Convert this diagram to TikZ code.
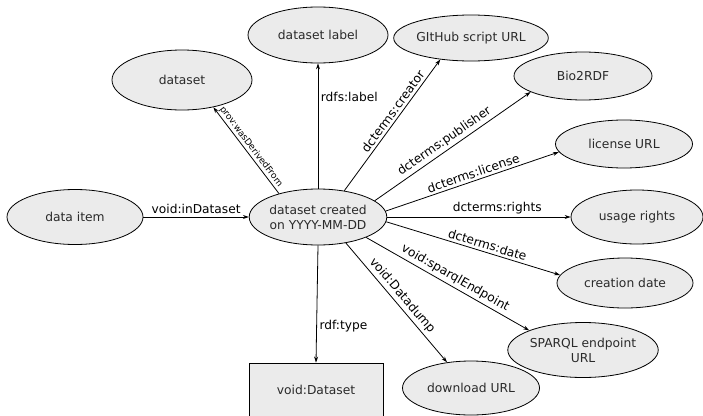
\documentclass[tikz,border=0pt]{standalone}
\usepackage{fontspec}
\setmainfont{DejaVu Sans}
\usetikzlibrary{shapes.geometric,arrows.meta}
\definecolor{nodefill}{HTML}{EBEBEB}
\definecolor{nodetext}{HTML}{2A2A2A}
\begin{document}
\begin{tikzpicture}[x=1pt,y=-1pt,
  ell/.style={ellipse,draw=black,line width=0.8pt,fill=nodefill,inner sep=0pt,
    text=nodetext,font=\fontsize{12.3}{15}\selectfont,align=center},
  boxnode/.style={rectangle,draw=black,line width=0.8pt,fill=nodefill,inner sep=0pt,
    text=nodetext,font=\fontsize{12.3}{15}\selectfont},
  edge/.style={-{Stealth[length=6pt,width=4pt]},line width=0.8pt,draw=black},
  lbl/.style={font=\fontsize{12.2}{14}\selectfont,text=black,inner sep=2.5pt},
  smalllbl/.style={font=\fontsize{9}{10}\selectfont,text=black,inner sep=1.5pt}
]
\useasboundingbox (0,0) rectangle (703,415);
\clip (0,0) rectangle (703,415);

\node[ell,minimum width=136pt,minimum height=56pt] (c) at (318,217) {dataset created\\on YYYY-MM-DD};
\node[ell,minimum width=136pt,minimum height=55pt] (di) at (75,217) {data item};
\node[ell,minimum width=140pt,minimum height=60pt] (ds) at (182,80) {dataset};
\node[ell,minimum width=140pt,minimum height=56pt] (dl) at (318,35) {dataset label};
\node[ell,minimum width=136pt,minimum height=46pt] (gh) at (471,38) {GItHub script URL};
\node[ell,minimum width=138pt,minimum height=48pt] (bio) at (583,76) {Bio2RDF};
\node[ell,minimum width=137pt,minimum height=48pt] (lic) at (624,144) {license URL};
\node[ell,minimum width=132pt,minimum height=54pt] (ur) at (637,217) {usage rights};
\node[ell,minimum width=136pt,minimum height=50pt] (cd) at (625,283) {creation date};
\node[ell,minimum width=137pt,minimum height=55pt] (sp) at (583,350) {SPARQL endpoint\\URL};
\node[ell,minimum width=137pt,minimum height=54pt] (dw) at (471,388) {download URL};
\node[boxnode,minimum width=134pt,minimum height=54pt] (vd) at (316,390) {void:Dataset};

\draw[edge] (di.east) -- node[lbl,above] {void:inDataset} (c.west);
\draw[edge] (c.149) -- node[smalllbl,sloped,above,pos=0.5] {prov:wasDerivedFrom} (ds.319);
\draw[edge] (c.north) -- node[lbl,right,pos=0.73] {rdfs:label} (dl.south);
\draw[edge] (c.45) -- node[lbl,sloped,above,pos=0.57] {dcterms:creator} (gh.215);
\draw[edge] (c.16) -- node[lbl,sloped,above,pos=0.48] {dcterms:publisher} (bio.197);
\draw[edge] (c.5) -- node[lbl,sloped,above,pos=0.52] {dcterms:license} (lic.187);
\draw[edge] (c.east) -- node[lbl,above,pos=0.6] {dcterms:rights} (ur.west);
\draw[edge] (c.-4) -- node[lbl,sloped,above,pos=0.57] {dcterms:date} (cd.173);
\draw[edge] (c.-23) -- node[lbl,sloped,above,pos=0.52] {void:sparqlEndpoint} (sp.160);
\draw[edge] (c.-43) -- node[lbl,sloped,above,pos=0.49] {void:Datadump} (dw.133);
\draw[edge] (c.south) -- node[lbl,right,pos=0.69] {rdf:type} (vd.north);
\end{tikzpicture}
\end{document}
